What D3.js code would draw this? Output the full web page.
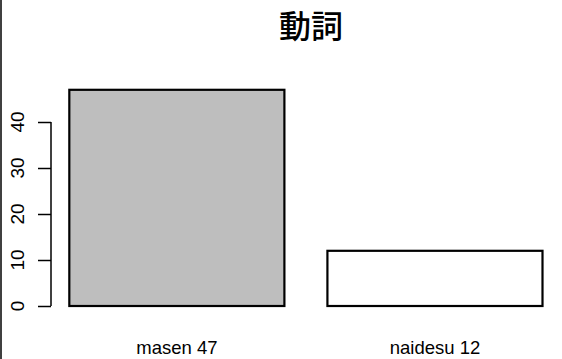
<!DOCTYPE html>
<html>
<head>
<meta charset="utf-8">
<script src="https://cdn.jsdelivr.net/npm/d3@7"></script>
<style>
html,body{margin:0;padding:0;background:#fff;}
svg{display:block;}
</style>
</head>
<body>
<script>
const title = "動詞";
const categories = ["masen 47", "naidesu 12"];
const values = [47, 12];
const fills = ["#BEBEBE", "#FFFFFF"];
const yTicks = [0, 10, 20, 30, 40];

const W = 562, H = 359;
const svg = d3.select("body").append("svg").attr("width", W).attr("height", H);

// R barplot-like geometry: width 1, space 0.2
const x = d3.scaleLinear().domain([0, 2.4]).range([26.3, 542.5]);
const y = d3.scaleLinear().domain([0, 40]).range([306, 122]);

// left frame line
svg.append("line").attr("x1", 1).attr("x2", 1).attr("y1", 0).attr("y2", H)
  .attr("stroke", "#000").attr("stroke-width", 1.5);

// bars
svg.selectAll("rect.bar").data(values).enter().append("rect")
  .attr("class", "bar")
  .attr("x", (d, i) => x(0.2 + i * 1.2))
  .attr("width", (d, i) => x(1.2 + i * 1.2) - x(0.2 + i * 1.2))
  .attr("y", d => y(d))
  .attr("height", d => y(0) - y(d))
  .attr("fill", (d, i) => fills[i])
  .attr("stroke", "#000").attr("stroke-width", 2.2);

// y axis
const axisG = svg.append("g").attr("transform", "translate(51,0)");
axisG.call(d3.axisLeft(y).tickValues(yTicks).tickSize(13).tickFormat(""));
axisG.select(".domain").remove();
axisG.append("line").attr("x1", 0).attr("x2", 0).attr("y1", y(0)).attr("y2", y(40))
  .attr("stroke", "#000").attr("stroke-width", 1.5);
axisG.selectAll(".tick line").attr("stroke-width", 1.5);

svg.selectAll("text.ylab").data(yTicks).enter().append("text")
  .attr("class", "ylab")
  .attr("transform", d => `translate(24,${y(d)}) rotate(-90)`)
  .attr("text-anchor", "middle")
  .attr("font-family", "Liberation Sans, Arial, sans-serif")
  .attr("font-size", 19)
  .text(d => d);

// category labels
svg.selectAll("text.xlab").data(categories).enter().append("text")
  .attr("class", "xlab")
  .attr("x", (d, i) => x(0.7 + i * 1.2))
  .attr("y", 354)
  .attr("text-anchor", "middle")
  .attr("font-family", "Liberation Sans, Arial, sans-serif")
  .attr("font-size", 18.5)
  .text(d => d);

// title
svg.append("text")
  .attr("x", 311).attr("y", 38)
  .attr("text-anchor", "middle")
  .attr("font-family", "Noto Sans CJK JP, sans-serif")
  .attr("font-weight", 500)
  .attr("font-size", 32)
  .text(title);
</script>
</body>
</html>
